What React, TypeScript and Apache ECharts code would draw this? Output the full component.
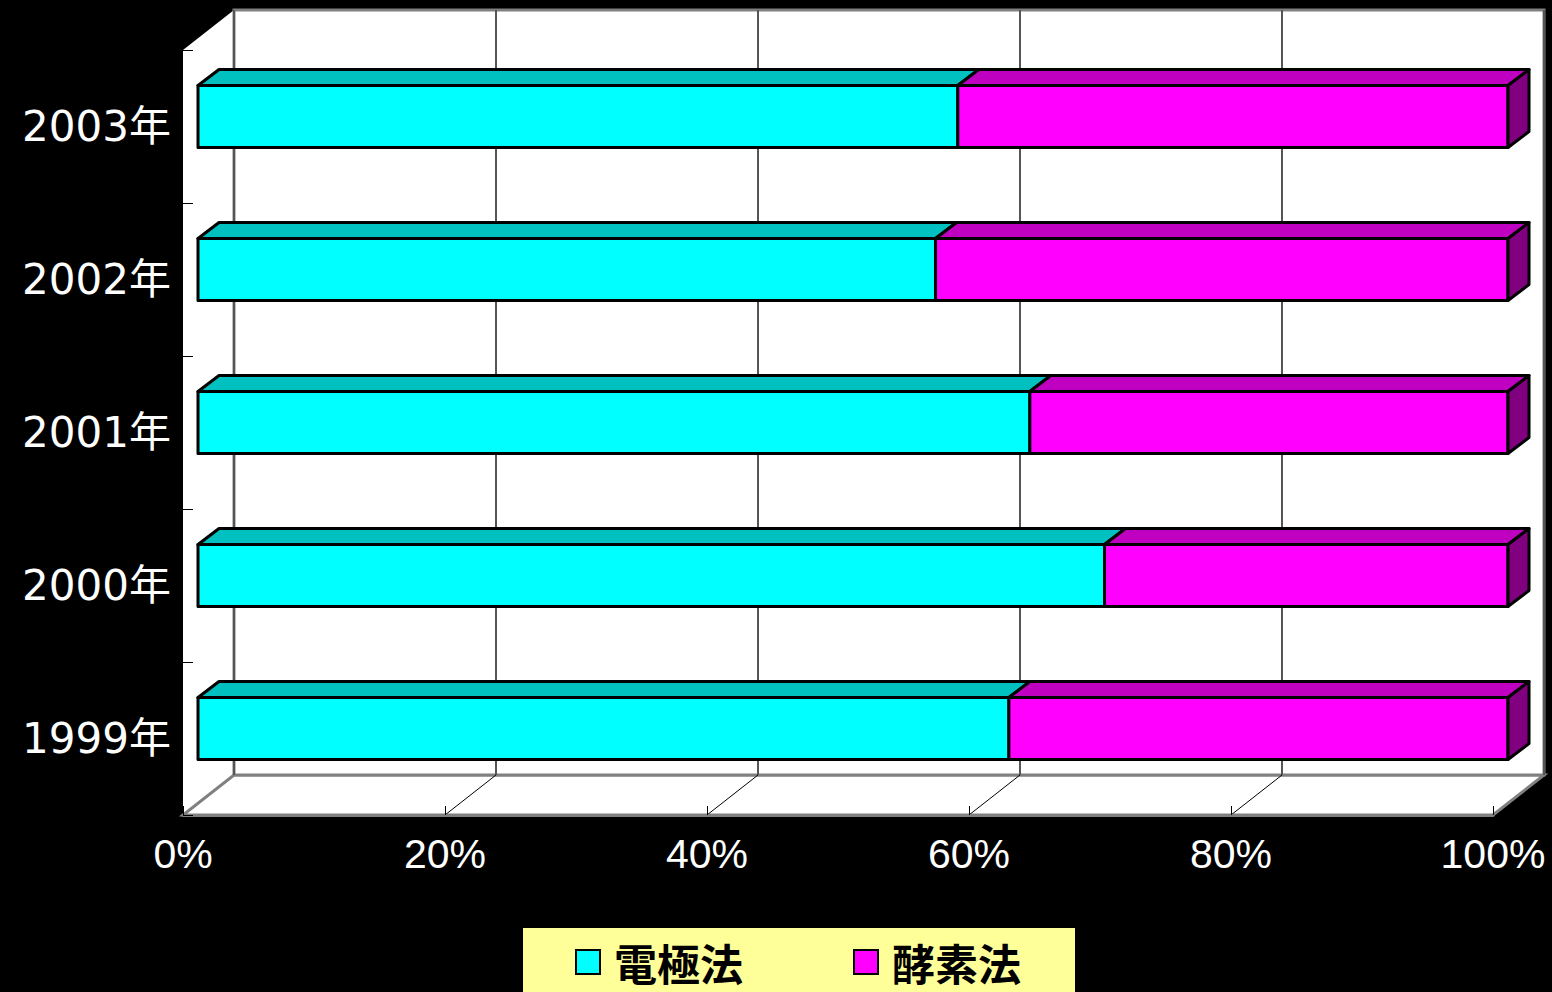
import React, { useEffect, useRef } from "react";
import * as echarts from "echarts";

// ---- data ----
const years = ["1999年", "2000年", "2001年", "2002年", "2003年"];
const electrode = [61.9, 69.2, 63.5, 56.3, 58.0]; // 電極法 (%)
const enzyme = [38.1, 30.8, 36.5, 43.7, 42.0]; // 酵素法 (%)
const xTicks = [0, 20, 40, 60, 80, 100];
const seriesNames = ["電極法", "酵素法"];

// ---- layout / style constants ----
const FRONT = { left: 183, top: 50, width: 1310, height: 765 };
const DEPTH = { x: 51, y: 40 };
const BACK = { left: FRONT.left + DEPTH.x, top: FRONT.top - DEPTH.y, width: FRONT.width, height: FRONT.height };
const BAR_DX = 15;
const BAR_DY = -10;
const BAR_DEPTH_X = 21;
const BAR_DEPTH_Y = 16;

function makeBarRender(topColor: string, frontColor: string, sideColor: string | null) {
  return (params: any, api: any) => {
    const cat = api.value(0);
    const s = api.value(1);
    const e = api.value(2);
    const p0 = api.coord([s, cat]);
    const p1 = api.coord([e, cat]);
    const band = api.size([0, 1])[1];
    const h = band * 0.405;
    const x0 = p0[0] + BAR_DX;
    const x1 = p1[0] + BAR_DX;
    const yc = p0[1] + BAR_DY;
    const yt = yc - h / 2;
    const yb = yc + h / 2;
    const stroke = { stroke: "#000", lineWidth: 3, lineJoin: "round" };
    const children: any[] = [
      {
        type: "polygon",
        shape: { points: [[x0, yt], [x1, yt], [x1 + BAR_DEPTH_X, yt - BAR_DEPTH_Y], [x0 + BAR_DEPTH_X, yt - BAR_DEPTH_Y]] },
        style: { fill: topColor, ...stroke },
      },
      {
        type: "rect",
        shape: { x: x0, y: yt, width: x1 - x0, height: h },
        style: { fill: frontColor, ...stroke },
      },
    ];
    if (sideColor) {
      children.push({
        type: "polygon",
        shape: { points: [[x1, yt], [x1 + BAR_DEPTH_X, yt - BAR_DEPTH_Y], [x1 + BAR_DEPTH_X, yb - BAR_DEPTH_Y], [x1, yb]] },
        style: { fill: sideColor, ...stroke },
      });
    }
    return { type: "group", children };
  };
}

export default function App() {
  const ref = useRef<HTMLDivElement>(null);
  useEffect(() => {
    if (!ref.current) return;
    const chart = echarts.init(ref.current, null, { renderer: "svg" });
    const electrodeData = years.map((_, i) => [i, 0, electrode[i]]);
    const enzymeData = years.map((_, i) => [i, electrode[i], electrode[i] + enzyme[i]]);
    const floorLines = xTicks.slice(1, -1).map((v) => [v, 0]);

    const fl = FRONT.left, ft = FRONT.top, fr = FRONT.left + FRONT.width, fb = FRONT.top + FRONT.height;
    const bl = BACK.left, bt = BACK.top, br = BACK.left + BACK.width, bb = BACK.top + BACK.height;

    const option: any = {
      animation: false,
      backgroundColor: "#000",
      grid: [
        { left: FRONT.left, top: FRONT.top, width: FRONT.width, height: FRONT.height, containLabel: false },
        {
          left: BACK.left, top: BACK.top, width: BACK.width, height: BACK.height, containLabel: false,
          show: true, backgroundColor: "#ffffff", borderColor: "#808080", borderWidth: 3, z: 1,
        },
      ],
      graphic: [
        {
          type: "polygon", z: 0,
          shape: { points: [[fl, ft], [bl, bt], [bl, bb], [fl, fb]] },
          style: { fill: "#ffffff", stroke: "none" },
        },
        {
          type: "polygon", z: 0,
          shape: { points: [[fl, fb], [fr, fb], [br, bb], [bl, bb]] },
          style: { fill: "#ffffff", stroke: "#808080", lineWidth: 3 },
        },
      ],
      xAxis: [
        {
          gridIndex: 0, type: "value", min: 0, max: 100, interval: 20, z: 4,
          axisLine: { show: true, lineStyle: { color: "#808080", width: 3 } },
          axisTick: { show: true, inside: true, length: 9, lineStyle: { color: "#000", width: 1 } },
          splitLine: { show: false },
          axisLabel: {
            formatter: "{value}%", color: "#fff", fontSize: 41, margin: 18,
            fontFamily: "Liberation Sans, Arial, sans-serif",
          },
        },
        {
          gridIndex: 1, type: "value", min: 0, max: 100, interval: 20, z: 2,
          axisLine: { show: false }, axisTick: { show: false }, axisLabel: { show: false },
          splitLine: { show: true, lineStyle: { color: "#555", width: 2 } },
        },
      ],
      yAxis: [
        {
          gridIndex: 0, type: "category", data: years, z: 4,
          axisLine: { show: false },
          axisTick: { show: true, inside: true, length: 10, lineStyle: { color: "#000", width: 1 } },
          axisLabel: {
            color: "#fff", fontSize: 42, margin: 12, padding: [10, 0, 0, 0],
            fontFamily: "DejaVu Sans, Noto Sans CJK JP, sans-serif",
          },
        },
        {
          gridIndex: 1, type: "category", data: years, show: false,
        },
      ],
      legend: {
        data: seriesNames,
        left: 523, top: 928, orient: "horizontal",
        backgroundColor: "#FFFF99",
        padding: [12, 54, 20, 52],
        itemGap: 110, itemWidth: 24, itemHeight: 24,
        icon: "rect",
        itemStyle: { borderColor: "#000", borderWidth: 2 },
        textStyle: {
          color: "#000", fontSize: 43, fontWeight: "bold", lineHeight: 44,
          fontFamily: "Noto Sans CJK JP, sans-serif", padding: [0, 0, 0, 9],
        },
        selectedMode: false,
      },
      series: [
        {
          type: "custom", name: "floor", xAxisIndex: 0, yAxisIndex: 0, z: 3, clip: false, silent: true,
          data: floorLines, encode: { x: 0, y: 1 },
          renderItem: (params: any, api: any) => {
            const p = api.coord([api.value(0), 0]);
            const bottom = params.coordSys.y + params.coordSys.height;
            return {
              type: "line",
              shape: { x1: p[0], y1: bottom, x2: p[0] + DEPTH.x, y2: bottom - DEPTH.y },
              style: { stroke: "#000", lineWidth: 1 },
            };
          },
        },
        {
          type: "custom", name: seriesNames[0], xAxisIndex: 0, yAxisIndex: 0, z: 5, clip: false,
          itemStyle: { color: "#00FFFF" },
          data: electrodeData, encode: { x: [1, 2], y: 0 },
          renderItem: makeBarRender("#00C0C0", "#00FFFF", null),
        },
        {
          type: "custom", name: seriesNames[1], xAxisIndex: 0, yAxisIndex: 0, z: 5, clip: false,
          itemStyle: { color: "#FF00FF" },
          data: enzymeData, encode: { x: [1, 2], y: 0 },
          renderItem: makeBarRender("#C000C0", "#FF00FF", "#800080"),
        },
      ],
    };
    chart.setOption(option);
    return () => chart.dispose();
  }, []);
  return (
    <div
      ref={ref}
      style={{ position: "fixed", left: 0, top: 0, width: 1552, height: 992, background: "#000" }}
    />
  );
}
